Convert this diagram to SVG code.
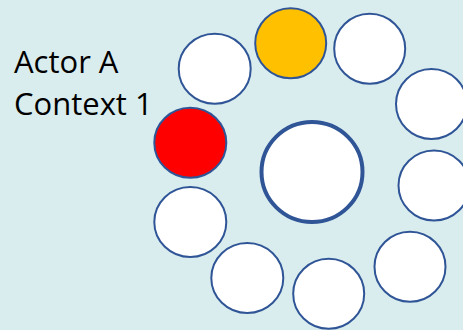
<svg xmlns="http://www.w3.org/2000/svg" width="463" height="330" viewBox="0 0 463 330">
<style>
.c{fill:#ffffff;stroke:#2f5597;stroke-width:2}
.lbl{font-family:"Open Sans","Liberation Sans",sans-serif;font-size:31px;fill:#000000}
</style>
<rect width="463" height="330" fill="#daedee"/>
<g id="label">
<text class="lbl" x="14" y="73">Actor A</text>
<text class="lbl" x="14" y="114.5">Context 1</text>
</g>
<g id="center"><ellipse cx="312" cy="172" rx="50.5" ry="50" fill="#ffffff" stroke="#2f5597" stroke-width="4"/></g>
<g id="n-orange"><ellipse class="c" cx="290.7" cy="43.3" rx="35.5" ry="35" style="fill:#ffc000"/></g>
<g id="n-topright"><ellipse class="c" cx="369.7" cy="48.7" rx="35.5" ry="35"/></g>
<g id="n-right1"><ellipse class="c" cx="431.5" cy="104" rx="35.5" ry="35"/></g>
<g id="n-right2"><ellipse class="c" cx="434" cy="185.5" rx="35.5" ry="35"/></g>
<g id="n-bottomright"><ellipse class="c" cx="410" cy="266.7" rx="35.5" ry="35"/></g>
<g id="n-bottom"><ellipse class="c" cx="328.7" cy="293.7" rx="35.5" ry="35"/></g>
<g id="n-bottomleft"><ellipse class="c" cx="247.3" cy="278" rx="36" ry="35"/></g>
<g id="n-left"><ellipse class="c" cx="190.3" cy="222" rx="36" ry="35"/></g>
<g id="n-red"><ellipse class="c" cx="190.3" cy="142.7" rx="36" ry="35" style="fill:#ff0000"/></g>
<g id="n-topleft"><ellipse class="c" cx="214.7" cy="68.7" rx="36" ry="35"/></g>
</svg>
